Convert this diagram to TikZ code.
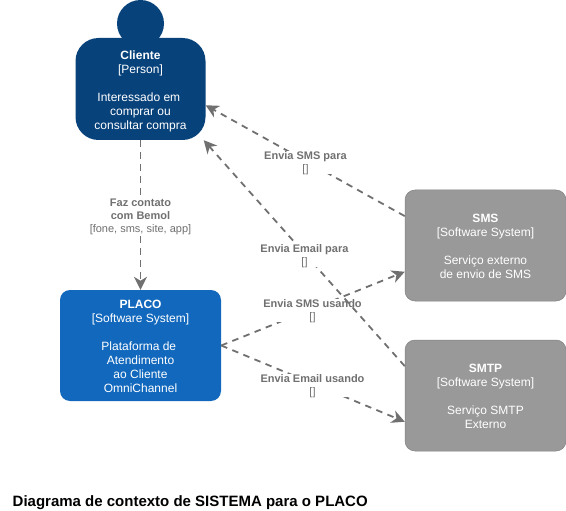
\documentclass[tikz,border=0pt]{standalone}
\usepackage{fontspec}
\setmainfont{Liberation Sans}
\usetikzlibrary{arrows.meta}
\definecolor{persona}{HTML}{08427B}
\definecolor{sistema}{HTML}{1168BD}
\definecolor{externo}{HTML}{999999}
\definecolor{ligacao}{HTML}{707070}
\newcommand{\topo}[1]{\rule{0pt}{#1}}
\tikzset{
  caixa/.style={rectangle, inner sep=0pt, align=center, text=white, minimum width=161pt, minimum height=111pt, rounded corners=10pt, font=\fontsize{12}{14}\selectfont},
  ligar/.style={draw=ligacao, line width=1.8pt, dash pattern=on 6.5pt off 5.5pt, -{Stealth[length=13pt,width=13pt,inset=4pt]}},
  rotulo/.style={fill=white, inner sep=0pt, align=center, text=ligacao, font=\fontsize{11}{13.2}\selectfont},
}
\begin{document}
\begin{tikzpicture}[x=1pt,y=-1pt]
\useasboundingbox (0,0) rectangle (566,511);
\node[circle, fill=persona, inner sep=0pt, minimum size=47pt] (cabeca) at (140.5,23.5){};
\node[caixa, fill=persona, minimum width=130pt, minimum height=102pt, rounded corners=23pt] (cliente) at (140.5,89){\topo{14pt}\textbf{Cliente}\\{[Person]}\\ \mbox{}\\Interessado em\mbox{ }\\comprar ou\\consultar compra};
\node[caixa, fill=sistema] (placo) at (140.5,345.5){\topo{10pt}\textbf{PLACO}\\{[Software System]}\\ \mbox{}\\Plataforma de\mbox{ }\\Atendimento\\ao Cliente\\OmniChannel};
\node[caixa, fill=externo, draw=externo!85!black, line width=0.5pt] (sms) at (485.5,245.5){\topo{10pt}\textbf{SMS}\\{[Software System]}\\ \mbox{}\\Serviço externo\\de envio de SMS};
\node[caixa, fill=externo, draw=externo!85!black, line width=0.5pt] (smtp) at (485.5,395.5){\topo{10pt}\textbf{SMTP}\\{[Software System]}\\ \mbox{}\\Serviço SMTP\\Externo};
\draw[ligar](cliente.south) -- (placo.north);
\node[rotulo] (faz) at (140.5,215.5){\topo{10.5pt}\textbf{Faz contato}\\\textbf{com Bemol}\\{[fone, sms, site, app]}};
\draw[ligar](sms.160.5) -- (cliente.-14.5);
\node[rotulo] (smspara) at (305.5,162.5){\topo{8.5pt}\textbf{Envia SMS para}\\{[]}};
\draw[ligar](placo.east) -- (sms.198.2);
\node[rotulo] (smsusando) at (312.5,310.5){\topo{8.5pt}\textbf{Envia SMS usando}\\{[]}};
\draw[ligar](smtp.160.5) -- (cliente.-39.2);
\node[rotulo] (emailpara) at (304.5,255.5){\topo{8.5pt}\textbf{Envia Email para}\\{[]}};
\draw[ligar](placo.east) -- (smtp.198.9);
\node[rotulo] (emailusando) at (312.5,385.5){\topo{8.5pt}\textbf{Envia Email usando}\\{[]}};
\node[anchor=west, inner sep=0pt, font=\fontsize{15}{18}\selectfont\bfseries] (titulo) at (12.5,503){Diagrama de contexto de SISTEMA para o PLACO};
\end{tikzpicture}
\end{document}
